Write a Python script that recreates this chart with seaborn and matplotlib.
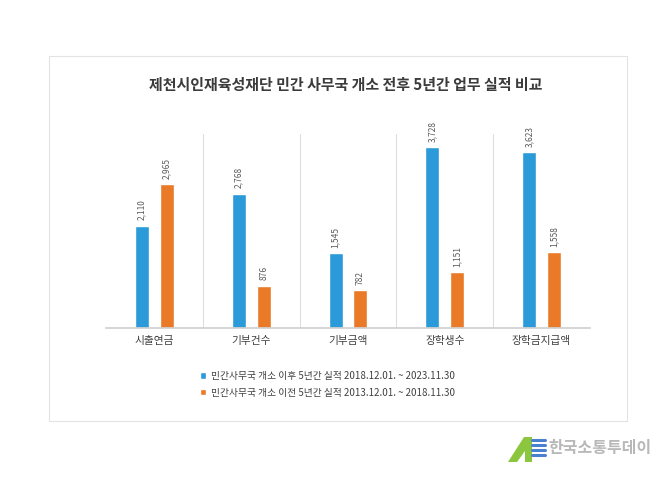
import numpy as np
import pandas as pd
import seaborn as sns
import matplotlib.pyplot as plt
from matplotlib.patches import Rectangle, Polygon
from matplotlib.lines import Line2D

# 데이터
categories = ['시출연금', '기부건수', '기부금액', '장학생수', '장학금지급액']
after_label = '민간사무국 개소 이후 5년간 실적 2018.12.01. ~ 2023.11.30'
before_label = '민간사무국 개소 이전 5년간 실적 2013.12.01. ~ 2018.11.30'
after_values = [2110, 2768, 1545, 3728, 3623]
before_values = [2965, 876, 782, 1151, 1558]
title = '제천시인재육성재단 민간 사무국 개소 전후 5년간 업무 실적 비교'

sns.set_theme(style='white')
plt.rcParams['font.family'] = ['Noto Sans CJK KR', 'DejaVu Sans']

df = pd.DataFrame({
    '항목': categories * 2,
    '구분': [after_label] * len(categories) + [before_label] * len(categories),
    '값': after_values + before_values,
})

W, H = 672, 478
def px(x, y):
    return (x / W, 1 - y / H)

fig = plt.figure(figsize=(6.72, 4.78), dpi=100)
fig.patch.set_facecolor('white')
ax = fig.add_axes([106 / W, 1 - 328 / H, 484 / W, 194 / H])

sns.barplot(data=df, x='항목', y='값', hue='구분', palette=['#2a9bd8', '#ea7a28'],
            width=0.515, gap=0.44, saturation=1, ax=ax)

for cont in ax.containers:
    ax.bar_label(cont, labels=[f'{int(v):,}' for v in cont.datavalues], rotation=90,
                 padding=4, fontsize=6, color='#595959')

ax.set_ylim(0, 4000)
ax.set_xlim(-0.5, 4.5)
for x in [0.5, 1.5, 2.5, 3.5]:
    ax.axvline(x, color='#dedede', lw=0.8, zorder=0)
sns.despine(ax=ax, left=True)
ax.spines['bottom'].set_color('#d0d0d0')
ax.set_yticks([])
ax.set_xlabel('')
ax.set_ylabel('')
ax.tick_params(axis='x', length=0, pad=6, labelsize=7.7, labelcolor='#404040')

sns.move_legend(ax, 'upper left', bbox_to_anchor=px(200, 371), bbox_transform=fig.transFigure,
                frameon=False, title=None, fontsize=7, handlelength=0.6, handleheight=0.6,
                handletextpad=0.5, labelspacing=0.7, borderpad=0, borderaxespad=0)
for t in ax.get_legend().get_texts():
    t.set_color('#404040')

# 제목, 테두리
fig.text(*px(346, 85), title, ha='center', va='center', fontsize=10.8,
         fontweight='bold', color='#3b3b3b')
x0, y0 = px(49, 421)
fig.add_artist(Rectangle((x0, y0), 578 / W, 365 / H, transform=fig.transFigure,
                         fill=False, ec='#e3e3e3', lw=0.8))

# 워터마크
fig.add_artist(Polygon([px(508, 462), px(524, 437), px(532, 437), px(532, 462),
                        px(525, 462), px(525, 451), px(517, 462)],
                       closed=True, transform=fig.transFigure, fc='#8cc63f', ec='none'))
for yy in [440, 445, 450, 455]:
    fig.add_artist(Line2D([532 / W, 545 / W], [1 - yy / H] * 2, transform=fig.transFigure,
                          color='#4a80d0', lw=2.2))
fig.text(*px(548, 448), '한국소통투데이', ha='left', va='center', fontsize=11.5,
         fontweight='bold', color='#b8b8b8')

fig.savefig('out.png', dpi=100)
